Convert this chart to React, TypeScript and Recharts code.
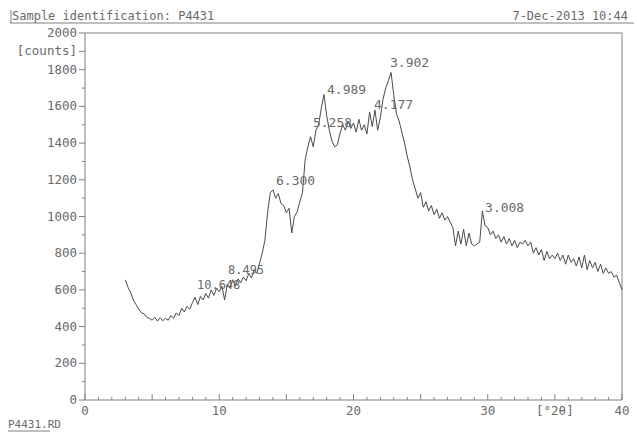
import React from 'react';
import {
  ComposedChart,
  Line,
  XAxis,
  YAxis,
  ReferenceLine,
  ReferenceDot,
} from 'recharts';

// scan grid of the diffractometer (°2θ)
const START_ANGLE = 3;
const STEP = 0.2;

// counts, one per 0.2° step from 3.0 to 40.0
const counts = [
  655, 615, 585, 545, 520, 495, 475, 470, 450, 445,
  435, 450, 430, 448, 432, 445, 435, 460, 445, 475,
  460, 500, 480, 510, 495, 530, 560, 520, 565, 545,
  580, 555, 600, 570, 610, 590, 620, 545, 630, 610,
  655, 620, 660, 640, 670, 650, 690, 665, 710, 690,
  745, 800, 870, 1020, 1130, 1145, 1100, 1125, 1070, 1060,
  1020, 1045, 910, 1000, 1025, 1080, 1130, 1310, 1380, 1435,
  1380, 1470, 1500, 1590, 1665, 1550, 1470, 1410, 1380, 1390,
  1455, 1500, 1470, 1520, 1480, 1510, 1460, 1530, 1470, 1500,
  1450, 1570, 1490, 1580, 1470, 1540, 1640, 1700, 1740, 1785,
  1660, 1560, 1520, 1460, 1400, 1330, 1270, 1200, 1150, 1100,
  1130, 1050, 1080, 1030, 1060, 1010, 1040, 990, 1020, 980,
  1000, 970, 940, 840, 920, 850, 930, 840, 910, 850,
  840, 850, 860, 1030, 950, 940, 900, 920, 880, 900,
  860, 890, 850, 880, 840, 870, 830, 860, 850, 870,
  840, 860, 800, 830, 790, 820, 760, 810, 770, 790,
  770, 800, 760, 790, 740, 790, 750, 770, 730, 780,
  720, 790, 710, 760, 720, 750, 700, 740, 690, 720,
  690, 700, 670, 680, 640, 600,
];

const yTicks = [
  0, 100, 200, 300, 400, 500, 600, 700, 800, 900, 1000,
  1100, 1200, 1300, 1400, 1500, 1600, 1700, 1800, 1900, 2000,
];
const xTicks = [
  0, 1, 2, 3, 4, 5, 6, 7, 8, 9, 10, 11, 12, 13, 14, 15, 16, 17, 18, 19, 20,
  21, 22, 23, 24, 25, 26, 27, 28, 29, 30, 31, 32, 33, 34, 35, 36, 37, 38, 39, 40,
];
const xTickLabels: Record<number, string> = {
  0: '0',
  10: '10',
  20: '20',
  30: '30',
  35: '[°2θ]',
  40: '40',
};

// peak annotations: where the d-spacing text sits (°2θ, counts)
const peakAngles = [8.34, 10.65, 14.23, 16.98, 18.03, 21.53, 22.72, 29.8];
const peakLabelCounts = [605, 685, 1173, 1490, 1670, 1588, 1817, 1026];
const peakLabels = ['10.648', '8.495', '6.300', '5.258', '4.989', '4.177', '3.902', '3.008'];

const data = counts.map((c, i) => ({
  angle: Number((START_ANGLE + i * STEP).toFixed(1)),
  counts: c,
}));

const FONT = '"DejaVu Sans Mono", monospace';
const GREY = '#808080';
const TEXT = '#6a6a6a';

const YTick = (props: any) => {
  const { x, y, payload } = props;
  const v = payload.value;
  const major = v % 200 === 0 || v === 1900;
  const label = v === 1900 ? '[counts]' : v % 200 === 0 ? String(v) : '';
  return (
    <g>
      <line x1={x - (major ? 6 : 3)} x2={x} y1={y} y2={y} stroke={GREY} />
      {label && (
        <text x={x - 8} y={y} dy={4} textAnchor="end" fontFamily={FONT} fontSize={12.5} fill={TEXT}>
          {label}
        </text>
      )}
    </g>
  );
};

const XTick = (props: any) => {
  const { x, y, payload } = props;
  const v = payload.value;
  const label = xTickLabels[v];
  return (
    <g>
      <line x1={x} x2={x} y1={y} y2={y - (v % 5 === 0 ? 6 : 3)} stroke={GREY} />
      {label && (
        <text x={x} y={y + 15} textAnchor="middle" fontFamily={FONT} fontSize={12.5} fill={TEXT}>
          {label}
        </text>
      )}
    </g>
  );
};

const App = () => {
  return (
    <div style={{ position: 'fixed', left: 0, top: 0, width: 637, height: 437, background: '#fff' }}>
      <ComposedChart
        width={637}
        height={437}
        data={data}
        margin={{ top: 33, right: 15, left: 0, bottom: 0 }}
        style={{ position: 'absolute', left: 0, top: 0 }}
      >
        <XAxis
          dataKey="angle"
          type="number"
          domain={[0, 40]}
          ticks={xTicks}
          interval={0}
          height={37}
          tickSize={0}
          tickMargin={0}
          tickLine={false}
          axisLine={{ stroke: GREY }}
          tick={<XTick />}
        />
        <YAxis
          type="number"
          domain={[0, 2000]}
          ticks={yTicks}
          interval={0}
          width={85}
          tickSize={0}
          tickMargin={0}
          tickLine={false}
          axisLine={{ stroke: GREY }}
          tick={<YTick />}
        />
        <ReferenceLine y={2000} stroke={GREY} />
        <ReferenceLine x={40} stroke={GREY} />
        <Line
          type="linear"
          dataKey="counts"
          stroke="#4a4a4a"
          strokeWidth={1}
          dot={false}
          isAnimationActive={false}
        />
        {peakLabels.map((label, i) => (
          <ReferenceDot
            key={label}
            x={peakAngles[i]}
            y={peakLabelCounts[i]}
            r={0}
            shape={(p: any) => (
              <text x={p.cx} y={p.cy} fontFamily={FONT} fontSize={i < 2 ? 12 : 13} fill={TEXT}>
                {label}
              </text>
            )}
          />
        ))}
      </ComposedChart>
      <svg
        width={637}
        height={437}
        style={{ position: 'absolute', left: 0, top: 0, pointerEvents: 'none' }}
      >
        <line x1={11} x2={11} y1={10} y2={23} stroke={GREY} />
        <line x1={10} x2={634} y1={23} y2={23} stroke={GREY} />
        <text x={12} y={20} fontFamily={FONT} fontSize={12} fill={TEXT}>
          Sample identification: P4431
        </text>
        <text x={628} y={20} textAnchor="end" fontFamily={FONT} fontSize={12} fill={TEXT}>
          7-Dec-2013 10:44
        </text>
        <text x={8} y={428} fontFamily={FONT} fontSize={11} fill={TEXT}>
          P4431.RD
        </text>
        <line x1={8} x2={50} y1={431} y2={431} stroke={GREY} />
      </svg>
    </div>
  );
};

export default App;
